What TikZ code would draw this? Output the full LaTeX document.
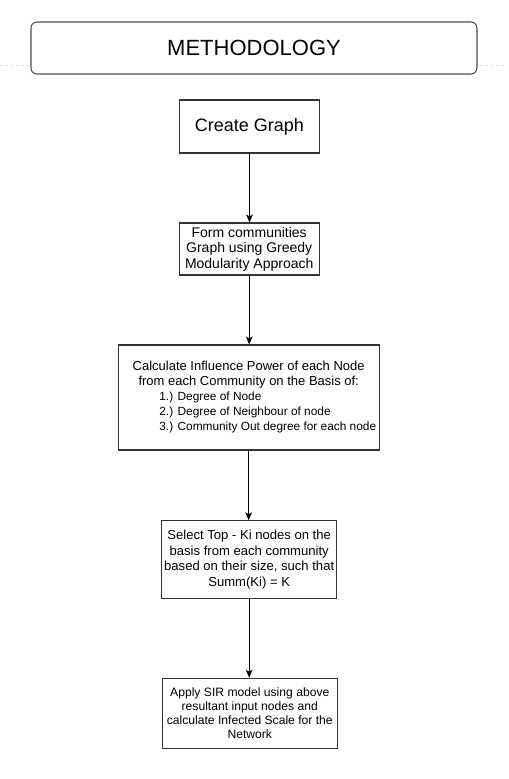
\documentclass[tikz,border=0pt]{standalone}
\usepackage{fontspec}
\setmainfont{Liberation Sans}
\usetikzlibrary{arrows.meta}
\newcommand\ctrline[1]{\makebox[186pt][c]{#1}}
\newcommand\lstline[1]{\makebox[186pt][l]{\hspace*{26pt}\fontsize{8.9}{11.25}\selectfont #1}}
\begin{document}
\begin{tikzpicture}[x=0.75pt,y=-0.75pt,
  box/.style={draw=black!80, line width=0.8pt, fill=white, inner sep=2pt, align=center},
  flow/.style={draw=black, line width=0.75pt, -{Stealth[length=6pt,width=5pt,inset=1.5pt]}},
  pageline/.style={draw=black!12, line width=0.6pt, dash pattern=on 2pt off 2pt}]
\useasboundingbox (0,0) rectangle (508,779);
\coordinate (pl) at (0,65);
\coordinate (pr) at (508,65);
\draw[pageline] (pl) -- (pr);
\node[box, draw=black!70, rounded corners=4.5pt, minimum width=334.5pt, minimum height=39pt,
  font=\fontsize{16.5}{19}\selectfont] (title) at (254,48) {METHODOLOGY};
\node[box, minimum width=105pt, minimum height=39.75pt,
  font=\fontsize{13.5}{16}\selectfont] (create) at (249.5,126.5) {Create Graph};
\node[box, minimum width=105pt, minimum height=39pt,
  font=\fontsize{10.5}{11.6}\selectfont] (form) at (249.2,249) {Form communities\\Graph using Greedy\\Modularity Approach};
\node[box, minimum width=195.75pt, minimum height=78.75pt, align=left,
  font=\fontsize{9.75}{11.25}\selectfont] (calc) at (248.7,397.5)
  {\ctrline{Calculate Influence Power of each Node}\\
   \ctrline{from each Community on the Basis of:}\\
   \lstline{1.) Degree of Node}\\
   \lstline{2.) Degree of Neighbour of node}\\
   \lstline{3.) Community Out degree for each node}};
\node[box, minimum width=131.25pt, minimum height=58.5pt,
  font=\fontsize{9.8}{11.7}\selectfont] (select) at (249.2,559.8)
  {Select Top - Ki nodes on the\\basis from each community\\based on their size, such that\\Summ(Ki) = K};
\node[box, minimum width=131.25pt, minimum height=52.5pt,
  font=\fontsize{9.1}{10.5}\selectfont] (apply) at (249.8,713.3)
  {Apply SIR model using above\\resultant input nodes and\\calculate Infected Scale for the\\Network};
\draw[flow] (create.south) -- (create.south |- form.north);
\draw[flow] (form.south) -- (form.south |- calc.north);
\draw[flow] (calc.south) -- (calc.south |- select.north);
\draw[flow] (select.south) -- (select.south |- apply.north);
\end{tikzpicture}
\end{document}
